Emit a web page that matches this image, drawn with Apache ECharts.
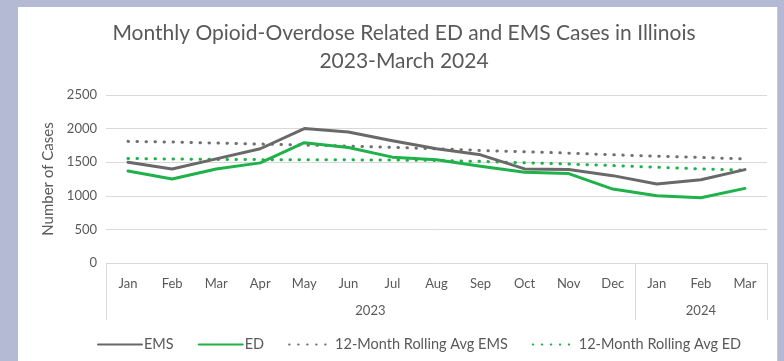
<!DOCTYPE html>
<html>
<head>
<meta charset="utf-8">
<script src="https://cdn.jsdelivr.net/npm/echarts@6/dist/echarts.min.js"></script>
<style>
  html, body { margin: 0; padding: 0; width: 784px; height: 361px; overflow: hidden; background: #b4b9d4; }
  #panel { position: absolute; left: 18px; top: 7px; width: 759px; height: 400px; background: #ffffff; border-right: 1px solid #c9c9c9; }
  #chart { position: absolute; left: 0; top: 0; width: 784px; height: 361px; }
</style>
</head>
<body>
<div id="panel"></div>
<div id="chart"></div>
<script>
// Months shown on the axis (Jan 2023 .. Mar 2024)
const months = ['Jan', 'Feb', 'Mar', 'Apr', 'May', 'Jun', 'Jul', 'Aug', 'Sep', 'Oct', 'Nov', 'Dec', 'Jan', 'Feb', 'Mar'];
// Year groups under the month labels
const years = ['2023', '2024'];
const monthsPerYear = [12, 3];

// Monthly case counts
const emsCases = [1500, 1400, 1550, 1700, 2000, 1950, 1820, 1700, 1610, 1400, 1390, 1300, 1175, 1240, 1390];
const edCases = [1370, 1250, 1400, 1490, 1790, 1720, 1575, 1535, 1440, 1350, 1330, 1100, 1000, 970, 1110];
// 12-month rolling averages
const emsRolling = [1810, 1800, 1785, 1770, 1755, 1740, 1720, 1700, 1675, 1655, 1635, 1610, 1590, 1570, 1550];
const edRolling = [1555, 1548, 1542, 1538, 1536, 1535, 1532, 1526, 1512, 1492, 1472, 1450, 1425, 1400, 1380];

const yTicks = { min: 0, max: 2500, step: 500 };

const FONT = 'Lato';
const TEXT = '#595959';
const GRID = '#d9d9d9';

// Boundaries and centres of the year groups, in month units
const yearEdges = [0];
const yearCentres = [];
monthsPerYear.forEach((n, i) => {
  const start = yearEdges[i];
  yearEdges.push(start + n);
  yearCentres.push(start + n / 2);
});

const chart = echarts.init(document.getElementById('chart'));
chart.setOption({
  backgroundColor: 'transparent',
  animation: false,
  title: {
    text: 'Monthly Opioid-Overdose Related ED and EMS Cases in Illinois\n2023-March 2024',
    left: 399,
    textAlign: 'center',
    top: 14,
    textStyle: { fontFamily: FONT, fontSize: 21, fontWeight: 'normal', color: TEXT, lineHeight: 28 }
  },
  legend: {
    left: 92,
    top: 332,
    itemWidth: 44,
    itemHeight: 14,
    itemGap: 24,
    itemStyle: { opacity: 0 },
    textStyle: { fontFamily: FONT, fontSize: 14.5, color: TEXT, padding: [0, 0, 0, -3] },
    data: ['EMS', 'ED', '12-Month Rolling Avg EMS', '12-Month Rolling Avg ED']
  },
  grid: { left: 106, right: 17, top: 95, bottom: 98, containLabel: false },
  xAxis: [
    {
      type: 'category',
      data: months,
      boundaryGap: true,
      axisLine: { show: true, lineStyle: { color: GRID, width: 1 } },
      axisTick: { show: false },
      axisLabel: { interval: 0, margin: 14, fontFamily: FONT, fontSize: 13, color: TEXT }
    },
    {
      type: 'value',
      position: 'bottom',
      min: 0,
      max: months.length,
      splitLine: { show: false },
      axisLine: { show: false },
      axisTick: { show: true, customValues: yearEdges, length: 57, lineStyle: { color: GRID, width: 1 } },
      axisLabel: {
        customValues: yearCentres,
        margin: 41,
        fontFamily: FONT, fontSize: 13, color: TEXT,
        formatter: (v) => years[yearCentres.indexOf(v)]
      }
    }
  ],
  yAxis: {
    type: 'value',
    min: yTicks.min,
    max: yTicks.max,
    interval: yTicks.step,
    name: 'Number of Cases',
    nameLocation: 'middle',
    nameGap: 50,
    nameTextStyle: { fontFamily: FONT, fontSize: 15, color: TEXT },
    axisLine: { show: false },
    axisTick: { show: false },
    axisLabel: { margin: 9, fontFamily: FONT, fontSize: 13, color: TEXT, formatter: (v) => String(v) },
    splitLine: { lineStyle: { color: GRID, width: 1 } }
  },
  series: [
    {
      name: 'EMS', type: 'line', data: emsCases, symbol: 'none',
      itemStyle: { color: '#696969' },
      lineStyle: { color: '#696969', width: 3, cap: 'round', join: 'round' }, z: 4
    },
    {
      name: 'ED', type: 'line', data: edCases, symbol: 'none',
      itemStyle: { color: '#1fb14a' },
      lineStyle: { color: '#1fb14a', width: 3, cap: 'round', join: 'round' }, z: 5
    },
    {
      name: '12-Month Rolling Avg EMS', type: 'line', data: emsRolling, symbol: 'none',
      itemStyle: { color: '#707070' },
      lineStyle: { color: '#707070', width: 3, type: [0.5, 8.5], cap: 'round' }, z: 3
    },
    {
      name: '12-Month Rolling Avg ED', type: 'line', data: edRolling, symbol: 'none',
      itemStyle: { color: '#1fb14a' },
      lineStyle: { color: '#1fb14a', width: 3, type: [0.5, 8.5], cap: 'round' }, z: 3
    }
  ]
});
</script>
</body>
</html>
